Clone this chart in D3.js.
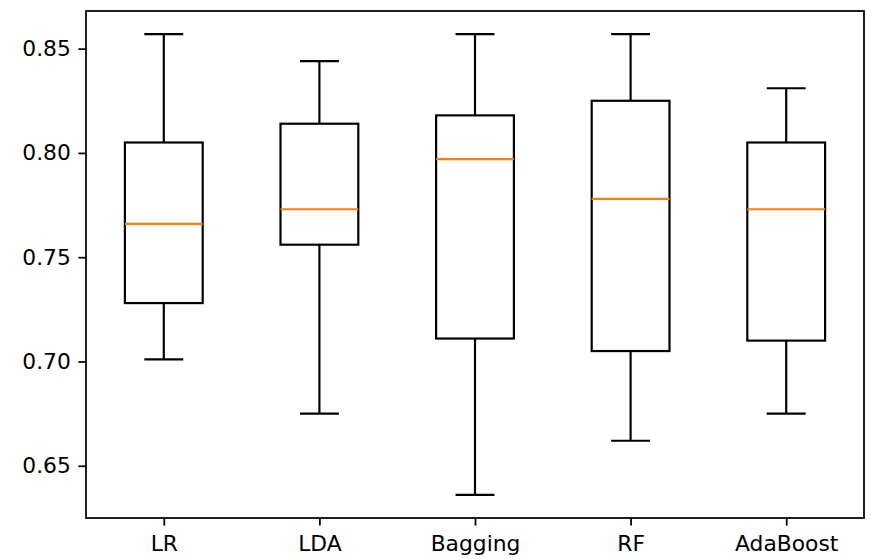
<!DOCTYPE html>
<html lang="en">
<head>
  <meta charset="UTF-8">
  <title>Model comparison</title>
  <script src="https://d3js.org/d3.v7.min.js"></script>
  <style>
    body { margin: 0; background: #fff; }
    text { font-family: "DejaVu Sans", sans-serif; font-size: 21.8px; fill: #000; }
  </style>
</head>
<body>
  <div id="chart"></div>

  <script>
    // Box plot values
    const models = ["LR", "LDA", "Bagging", "RF", "AdaBoost"];
    const whiskerLow = [0.701, 0.675, 0.636, 0.662, 0.675];
    const q1 = [0.728, 0.756, 0.711, 0.705, 0.710];
    const median = [0.766, 0.773, 0.797, 0.778, 0.773];
    const q3 = [0.805, 0.814, 0.818, 0.825, 0.805];
    const whiskerHigh = [0.857, 0.844, 0.857, 0.857, 0.831];
    const yTicks = [0.65, 0.70, 0.75, 0.80, 0.85];

    const width = 871;
    const height = 559;
    const margin = { top: 11, right: 7, bottom: 41, left: 86 };
    const lw = 2.18;   // 1pt at this scale
    const tickLen = 7.6;

    const svg = d3.select("#chart")
      .append("svg")
      .attr("width", width)
      .attr("height", height);

    // matplotlib-style 5% padding on the data range
    const lo = d3.min(whiskerLow), hi = d3.max(whiskerHigh);
    const pad = (hi - lo) * 0.05;

    const x = d3.scaleLinear()
      .domain([0.5, models.length + 0.5])
      .range([margin.left, width - margin.right]);

    const y = d3.scaleLinear()
      .domain([lo - pad, hi + pad])
      .range([height - margin.bottom, margin.top]);

    const boxes = models.map((m, i) => ({
      name: m, pos: i + 1,
      low: whiskerLow[i], q1: q1[i], med: median[i], q3: q3[i], high: whiskerHigh[i]
    }));

    const g = svg.append("g");

    // whiskers
    g.selectAll(".whisker-lo")
      .data(boxes)
      .enter().append("line")
      .attr("x1", d => x(d.pos)).attr("x2", d => x(d.pos))
      .attr("y1", d => y(d.q1)).attr("y2", d => y(d.low))
      .attr("stroke", "#000").attr("stroke-width", lw);

    g.selectAll(".whisker-hi")
      .data(boxes)
      .enter().append("line")
      .attr("x1", d => x(d.pos)).attr("x2", d => x(d.pos))
      .attr("y1", d => y(d.q3)).attr("y2", d => y(d.high))
      .attr("stroke", "#000").attr("stroke-width", lw);

    // caps
    ["low", "high"].forEach(k => {
      g.selectAll(".cap-" + k)
        .data(boxes)
        .enter().append("line")
        .attr("x1", d => x(d.pos - 0.125)).attr("x2", d => x(d.pos + 0.125))
        .attr("y1", d => y(d[k])).attr("y2", d => y(d[k]))
        .attr("stroke", "#000").attr("stroke-width", lw);
    });

    // boxes
    g.selectAll(".box")
      .data(boxes)
      .enter().append("rect")
      .attr("x", d => x(d.pos - 0.25))
      .attr("width", d => x(d.pos + 0.25) - x(d.pos - 0.25))
      .attr("y", d => y(d.q3))
      .attr("height", d => y(d.q1) - y(d.q3))
      .attr("fill", "none")
      .attr("stroke", "#000").attr("stroke-width", lw);

    // medians
    g.selectAll(".median")
      .data(boxes)
      .enter().append("line")
      .attr("x1", d => x(d.pos - 0.25)).attr("x2", d => x(d.pos + 0.25))
      .attr("y1", d => y(d.med)).attr("y2", d => y(d.med))
      .attr("stroke", "#ff7f0e").attr("stroke-width", lw);

    // axes
    const yAxis = d3.axisLeft(y)
      .tickValues(yTicks)
      .tickSize(tickLen)
      .tickPadding(tickLen)
      .tickFormat(d3.format(".2f"));

    const xAxis = d3.axisBottom(x)
      .tickValues(boxes.map(d => d.pos))
      .tickSize(tickLen)
      .tickPadding(tickLen + 2)
      .tickFormat((d, i) => models[i]);

    const ya = svg.append("g")
      .attr("transform", `translate(${margin.left},0)`)
      .call(yAxis);
    const xa = svg.append("g")
      .attr("transform", `translate(0,${height - margin.bottom})`)
      .call(xAxis);

    [ya, xa].forEach(a => {
      a.select(".domain").remove();
      a.selectAll(".tick line").attr("stroke", "#000").attr("stroke-width", 1.75);
      a.selectAll(".tick text").attr("font-size", "21.8px").attr("fill", "#000")
        .attr("font-family", "DejaVu Sans, sans-serif");
    });

    // frame
    svg.append("rect")
      .attr("x", margin.left)
      .attr("y", margin.top)
      .attr("width", width - margin.left - margin.right)
      .attr("height", height - margin.top - margin.bottom)
      .attr("fill", "none")
      .attr("stroke", "#000")
      .attr("stroke-width", 1.75);
  </script>
</body>
</html>
